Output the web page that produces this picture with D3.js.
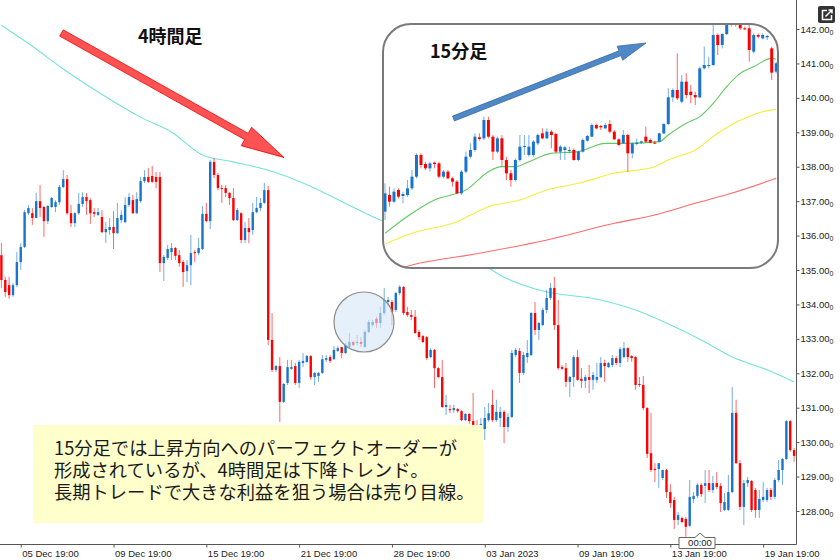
<!DOCTYPE html>
<html><head><meta charset="utf-8">
<script src="https://cdn.jsdelivr.net/npm/d3@7"></script>
<style>
html,body{margin:0;padding:0;background:#fff;}
#wrap{position:relative;width:840px;height:560px;}
svg{display:block;}
#note{position:absolute;left:54px;top:436px;font-family:'Noto Sans CJK JP','Noto Sans CJK SC',sans-serif;font-size:18.3px;color:#1a1a1a;white-space:nowrap;}
#note div{height:22px;line-height:22px;overflow:visible;}
</style>
</head><body>
<div id="wrap"><svg id="chart" width="840" height="560"></svg><div id="note"></div></div>
<script>
// ---- Main 4H chart (USD/JPY) ----
const opens=[
135.43,134.71,134.56,134.27,134.56,135.23,135.67,136.65,136.65,136.51,
137.00,136.83,136.42,136.83,136.83,136.97,137.41,137.64,136.65,136.36,
136.65,136.92,137.12,137.03,136.68,136.60,136.54,136.10,136.16,136.25,
136.07,136.45,136.39,136.89,137.03,136.65,137.00,137.58,137.70,137.73,
137.70,137.70,135.20,135.35,135.52,135.64,135.43,135.23,134.97,135.14,
135.52,135.49,135.61,136.63,136.42,138.14,137.76,137.38,137.38,137.24,
137.09,136.45,136.65,135.87,136.22,136.16,136.68,136.80,136.95,137.32,
132.97,132.10,132.21,131.17,131.72,132.13,132.21,131.72,132.30,132.33,
132.50,131.89,131.92,132.01,132.39,132.47,132.41,132.65,132.76,132.59,
132.76,132.91,132.88,132.91,132.76,133.20,133.40,133.58,133.46,133.75,
134.07,134.07,133.84,134.33,134.51,133.78,133.69,133.64,133.20,133.08,
133.05,132.47,132.68,132.15,131.89,131.02,130.96,130.93,130.96,130.90,
130.64,130.82,130.61,130.50,130.30,130.38,130.64,131.08,130.64,130.70,
130.88,130.44,130.73,132.53,132.65,132.01,132.47,132.53,133.75,133.26,
133.40,133.84,134.19,134.48,133.40,132.18,132.15,131.75,131.89,132.47,
131.84,131.78,131.89,131.81,131.81,131.89,132.30,132.18,132.24,132.44,
132.30,132.47,132.73,132.50,132.47,131.69,131.66,130.99,129.68,129.22,
129.22,128.96,129.19,128.55,128.32,127.74,127.80,127.77,127.57,128.35,
128.44,128.76,128.73,128.81,128.61,128.81,128.73,128.03,128.03,128.55,
130.85,129.39,128.12,128.81,128.87,128.61,128.03,128.32,128.32,128.61,
128.41,128.90,129.19,129.51,130.61,129.77];
const highs=[
135.78,134.80,134.80,134.62,135.52,135.78,136.74,136.89,136.80,137.24,
137.47,136.86,136.89,137.12,137.03,137.47,137.90,137.76,136.89,136.68,
137.24,137.26,137.24,137.09,136.80,136.80,136.74,136.39,136.51,136.71,
136.95,136.74,137.12,137.24,137.18,137.26,137.70,137.90,137.96,138.02,
137.85,137.85,135.43,135.73,135.78,135.67,135.58,135.29,135.29,136.02,
135.58,135.93,136.86,136.95,138.19,138.25,137.82,137.47,137.47,137.26,
137.38,136.80,136.68,136.39,136.51,136.95,137.12,137.09,137.53,137.44,
133.75,132.24,132.47,131.72,132.39,132.39,132.30,132.39,132.59,132.53,
132.53,132.04,132.04,132.53,132.53,132.53,132.79,132.79,132.76,132.88,
133.17,132.94,133.11,133.05,133.26,133.55,133.55,133.64,133.93,134.48,
134.22,134.13,134.36,134.56,134.54,133.93,133.84,133.84,133.26,133.11,
133.08,132.73,132.70,132.18,132.39,131.37,131.08,131.08,130.99,130.93,
130.84,130.84,131.43,130.64,130.70,131.02,131.14,131.52,131.23,131.02,
130.93,130.84,132.68,132.73,132.73,132.62,132.97,133.78,134.07,133.49,
133.90,134.42,134.62,134.80,134.13,132.24,132.30,131.92,132.53,132.68,
132.15,131.95,132.24,132.04,132.30,132.47,132.39,132.33,132.53,132.50,
132.76,132.91,132.76,132.53,132.50,131.89,131.92,131.02,130.85,129.39,
129.39,129.19,129.22,128.78,128.41,127.97,127.83,127.83,128.90,128.55,
128.81,128.81,129.19,129.19,129.02,129.13,128.81,128.52,129.05,131.60,
131.23,129.48,128.90,128.99,128.90,128.67,128.61,128.84,128.67,128.67,
128.96,129.48,129.54,130.64,130.64,129.83];
const lows=[
134.48,134.22,134.16,134.22,134.51,135.00,135.64,136.60,136.31,136.51,
136.54,135.96,136.34,136.80,136.68,136.89,137.38,136.60,136.25,136.25,
136.60,136.83,136.60,136.34,136.54,136.57,136.07,135.78,136.02,135.61,
136.05,136.36,136.36,136.83,136.63,136.63,136.95,137.53,137.53,137.53,
137.38,134.94,134.68,135.29,135.29,135.29,135.09,134.51,134.65,134.56,
135.23,135.43,135.58,136.39,136.19,137.67,137.32,136.95,137.12,136.89,
136.42,136.42,135.78,135.78,135.78,136.02,136.65,136.71,136.92,132.82,
132.04,132.04,130.59,131.14,131.66,132.10,131.66,131.57,132.18,132.30,
131.81,131.66,131.75,131.98,132.33,132.30,132.39,132.62,132.44,132.56,
132.73,132.79,132.82,132.76,132.76,133.17,133.34,133.32,133.32,133.69,
133.93,133.40,133.78,134.27,133.69,133.64,133.55,133.14,132.97,132.88,
132.39,132.44,131.57,131.86,130.99,130.79,130.85,130.85,130.85,130.61,
130.61,130.53,130.44,130.12,130.24,130.06,130.59,130.59,130.59,130.44,
129.97,130.30,130.70,132.47,131.72,131.95,132.30,132.50,133.11,132.97,
133.37,133.75,134.13,133.26,132.10,132.10,131.60,131.31,131.60,131.78,
131.57,131.57,131.43,131.52,131.72,131.86,131.75,132.15,132.18,132.24,
132.18,132.44,132.33,132.33,131.52,131.60,130.93,129.54,129.13,128.84,
128.67,128.90,128.38,128.09,127.48,127.59,127.65,127.25,127.54,128.23,
128.38,128.41,128.23,128.55,128.52,128.64,127.97,128.00,128.00,128.52,
129.37,128.03,127.59,128.70,127.97,127.80,127.80,128.26,128.26,128.32,
128.35,128.84,128.76,129.48,129.72,129.43];
const closes=[
134.71,134.36,134.27,134.56,135.23,135.67,136.68,136.80,136.51,137.00,
136.80,136.42,136.86,137.09,136.97,137.41,137.64,136.65,136.36,136.65,
136.92,137.12,137.00,136.65,136.63,136.68,136.10,136.19,136.25,136.07,
136.51,136.60,136.89,137.12,136.65,137.06,137.58,137.70,137.56,137.56,
137.56,135.20,135.38,135.61,135.64,135.41,135.20,134.94,135.14,135.49,
135.49,135.64,136.63,136.42,138.14,137.76,137.38,137.35,137.24,137.09,
136.45,136.74,135.87,136.22,136.10,136.68,136.80,136.95,137.32,132.97,
132.10,132.21,131.17,131.69,132.18,132.18,131.72,132.33,132.36,132.50,
131.89,132.01,132.01,132.41,132.44,132.36,132.68,132.73,132.59,132.82,
132.91,132.82,132.91,132.85,133.20,133.49,133.49,133.46,133.75,134.13,
134.13,133.78,134.33,134.51,133.75,133.69,133.64,133.17,133.05,132.91,
132.44,132.68,132.15,131.89,131.02,131.08,130.93,130.99,130.90,130.64,
130.82,130.61,130.50,130.30,130.53,130.70,130.84,130.64,130.88,130.88,
130.44,130.73,132.59,132.68,132.01,132.53,132.59,133.75,133.26,133.46,
133.84,134.19,134.48,133.40,132.15,132.13,131.75,131.89,132.47,131.81,
131.78,131.89,131.81,131.95,131.89,132.30,132.21,132.30,132.44,132.30,
132.70,132.73,132.47,132.44,131.66,131.66,130.99,129.66,129.19,129.19,
129.39,129.19,128.55,128.23,127.74,127.88,127.68,127.54,128.41,128.44,
128.76,128.49,128.81,128.61,128.81,128.70,128.23,128.26,128.55,130.85,
129.39,128.12,128.81,128.90,128.03,128.03,128.35,128.41,128.61,128.41,
128.90,129.19,129.51,130.61,129.77,129.60];
// moving average (read at selected bars)
const maIdx=[0,8,15,25,36,44,52,60,69,98,126,129,139,155,164,172,181,189,198,205];
const maVal=[142.11,141.50,140.92,140.17,139.44,139.01,138.34,138.14,137.90,136.45,135.06,134.85,134.42,134.13,133.84,133.46,132.97,132.47,132.10,131.75];
const yTicks=[128,129,130,131,132,133,134,135,136,137,138,139,140,141,142];
const xTickIdx=[5,29,53,77,101,125,149,173,197];
const xTickLabels=["05 Dec 19:00","09 Dec 19:00","15 Dec 19:00","21 Dec 19:00","28 Dec 19:00","03 Jan 2023","09 Jan 19:00","13 Jan 19:00","19 Jan 19:00"];

// ---- Inset 15-minute chart ----
const insetOpen=[
133.35,133.45,133.41,133.48,133.444,133.45,133.49,133.56,133.69,133.636,
133.61,133.644,133.64,133.56,133.59,133.55,133.53,133.46,133.59,133.68,
133.72,133.796,133.79,133.90,133.80,133.71,133.79,133.66,133.58,133.54,
133.66,133.74,133.69,133.69,133.76,133.82,133.79,133.83,133.816,133.71,
133.72,133.714,133.72,133.66,133.71,133.776,133.80,133.87,133.864,133.85,
133.876,133.83,133.784,133.76,133.81,133.70,133.756,133.764,133.80,133.78,
133.764,133.77,133.82,133.876,134.036,134.08,134.01,134.13,134.07,134.05,
134.036,134.21,134.224,134.23,134.41,134.35,134.416,134.47,134.50,134.476,
134.45,134.45,134.31,134.41,134.39,134.396,134.33,134.19];
const insetHigh=[
133.52,133.50,133.49,133.49,133.47,133.54,133.60,133.70,133.70,133.65,
133.65,133.65,133.65,133.60,133.60,133.56,133.54,133.60,133.71,133.76,
133.82,133.82,133.92,133.92,133.81,133.80,133.81,133.68,133.60,133.67,
133.81,133.81,133.81,133.78,133.82,133.85,133.85,133.84,133.824,133.75,
133.744,133.74,133.73,133.716,133.79,133.81,133.88,133.88,133.87,133.88,
133.90,133.84,133.79,133.84,133.816,133.764,133.79,133.776,133.86,133.79,
133.776,133.824,133.88,134.09,134.09,134.30,134.17,134.18,134.11,134.07,
134.22,134.34,134.28,134.47,134.42,134.42,134.48,134.52,134.52,134.49,
134.46,134.47,134.42,134.42,134.42,134.41,134.34,134.25];
const insetLow=[
133.30,133.38,133.40,133.43,133.40,133.44,133.48,133.55,133.61,133.60,
133.59,133.61,133.55,133.55,133.544,133.50,133.456,133.45,133.58,133.67,
133.71,133.776,133.78,133.79,133.66,133.70,133.62,133.54,133.50,133.53,
133.65,133.69,133.68,133.68,133.75,133.784,133.784,133.73,133.70,133.66,
133.66,133.70,133.656,133.652,133.704,133.77,133.796,133.844,133.84,133.844,
133.82,133.78,133.744,133.756,133.59,133.67,133.748,133.756,133.764,133.76,
133.756,133.764,133.816,133.87,134.01,134.02,134.00,134.03,134.00,133.99,
134.03,134.204,134.21,134.224,134.29,134.33,134.41,134.46,134.46,134.44,
134.44,134.25,134.30,134.39,134.384,134.38,134.14,134.18];
const insetClose=[
133.46,133.41,133.47,133.44,133.456,133.49,133.56,133.69,133.63,133.61,
133.64,133.636,133.56,133.59,133.55,133.53,133.46,133.59,133.68,133.72,
133.80,133.786,133.90,133.80,133.71,133.79,133.66,133.58,133.54,133.66,
133.74,133.744,133.74,133.77,133.81,133.79,133.83,133.81,133.71,133.74,
133.736,133.72,133.66,133.71,133.78,133.804,133.87,133.85,133.856,133.87,
133.83,133.784,133.75,133.81,133.70,133.76,133.764,133.772,133.77,133.764,
133.76,133.82,133.876,134.036,134.08,134.03,134.13,134.05,134.05,134.036,
134.21,134.23,134.23,134.41,134.35,134.416,134.47,134.51,134.476,134.45,
134.444,134.32,134.41,134.40,134.41,134.404,134.184,134.24];
const insetMaFastIdx=[0,6,11,16,18,23,26,29,32,37,43,49,54,61,63,67,70,73,76,79,82,86,87];
const insetMaFast=[133.22,133.34,133.42,133.46,133.48,133.59,133.62,133.62,133.65,133.70,133.71,133.76,133.76,133.77,133.81,133.88,133.92,134.00,134.10,134.18,134.22,134.27,134.264];
const insetMaMidIdx=[0,6,16,23,30,36,43,51,60,63,69,74,80,84,87];
const insetMaMid=[133.156,133.22,133.29,133.38,133.42,133.48,133.52,133.58,133.62,133.66,133.72,133.82,133.91,133.95,133.964];
const insetMaSlowIdx=[0,6,21,36,51,60,69,77,87];
const insetMaSlow=[132.98,133.03,133.10,133.18,133.28,133.33,133.40,133.46,133.55];

const titleMain="4時間足";
const titleInset="15分足";
const noteLines=["15分足では上昇方向へのパーフェクトオーダーが","形成されているが、4時間足は下降トレンド。","長期トレードで大きな利益を狙う場合は売り目線。"];

// ---------------- drawing ----------------
const UP="#1874cd", DN="#ff0000";
const CJK="'Noto Sans CJK JP','Noto Sans CJK SC',sans-serif";
const AXF="'Liberation Sans',Arial,sans-serif";
const svg=d3.select("#chart");
const defs=svg.append("defs");

const x=d3.scaleLinear().domain([0,opens.length-1]).range([1.4,794.1]);
const y=d3.scaleLinear().domain([128,142]).range([511,29]);

defs.append("clipPath").attr("id","plotClip").append("rect").attr("x",0).attr("y",0).attr("width",796).attr("height",544);
const plot=svg.append("g").attr("clip-path","url(#plotClip)");

// MA line
plot.append("path")
  .datum(maIdx.map((d,k)=>[d,maVal[k]]))
  .attr("d",d3.line().x(d=>x(d[0])).y(d=>y(d[1])).curve(d3.curveMonotoneX))
  .attr("fill","none").attr("stroke","#74e3d9").attr("stroke-width",1.1);

function drawCandles(g,o,h,l,c,xs,ys,bw){
  const data=o.map((v,i)=>({i,o:v,h:h[i],l:l[i],c:c[i]}));
  const cg=g.append("g").selectAll("g").data(data).join("g");
  cg.append("line")
    .attr("x1",d=>xs(d.i)).attr("x2",d=>xs(d.i))
    .attr("y1",d=>ys(d.h)).attr("y2",d=>ys(d.l))
    .attr("stroke",d=>d.c>=d.o?UP:DN).attr("stroke-opacity",0.6).attr("stroke-width",1);
  cg.append("rect")
    .attr("x",d=>xs(d.i)-bw/2).attr("width",bw)
    .attr("y",d=>ys(Math.max(d.o,d.c)))
    .attr("height",d=>Math.max(1,Math.abs(ys(d.o)-ys(d.c))))
    .attr("fill",d=>d.c>=d.o?UP:DN);
}
drawCandles(plot,opens,highs,lows,closes,x,y,2.4);

// highlight circle
plot.append("circle").attr("cx",364).attr("cy",322).attr("r",30)
  .attr("fill","rgba(214,230,247,0.6)").attr("stroke","#8c8c8c").attr("stroke-width",1.2);

// arrow helper
function arrowPath(x0,y0,x1,y1,sw,hl,hw){
  const dx=x1-x0,dy=y1-y0,L=Math.hypot(dx,dy),ux=dx/L,uy=dy/L,nx=-uy,ny=ux;
  const bx=x1-ux*hl,by=y1-uy*hl;
  const pts=[[x0+nx*sw,y0+ny*sw],[bx+nx*sw,by+ny*sw],[bx+nx*hw,by+ny*hw],[x1,y1],
             [bx-nx*hw,by-ny*hw],[bx-nx*sw,by-ny*sw],[x0-nx*sw,y0-ny*sw]];
  return "M"+pts.map(p=>p[0].toFixed(1)+","+p[1].toFixed(1)).join("L")+"Z";
}

// ---- inset ----
const ix=d3.scaleLinear().domain([0,insetOpen.length-1]).range([385,776.2]);
const iy=d3.scaleLinear().domain([133.0,134.5]).range([270,20]);
const IR={x:383,y:24,w:395,h:244,r:28};
defs.append("clipPath").attr("id","insetClip").append("rect")
  .attr("x",IR.x).attr("y",IR.y).attr("width",IR.w).attr("height",IR.h).attr("rx",IR.r);
svg.append("rect").attr("x",IR.x).attr("y",IR.y).attr("width",IR.w).attr("height",IR.h).attr("rx",IR.r).attr("fill","#fff");
const inset=svg.append("g").attr("clip-path","url(#insetClip)");
const iline=d3.line().x(d=>ix(d[0])).y(d=>iy(d[1])).curve(d3.curveMonotoneX);
[[insetMaSlowIdx,insetMaSlow,"#ff6a6a"],[insetMaMidIdx,insetMaMid,"#f4ee3a"],[insetMaFastIdx,insetMaFast,"#62c962"]]
  .forEach(([idx,val,col])=>{
    inset.append("path").datum(idx.map((d,k)=>[d,val[k]])).attr("d",iline)
      .attr("fill","none").attr("stroke",col).attr("stroke-width",1.1);
  });
drawCandles(inset,insetOpen,insetHigh,insetLow,insetClose,ix,iy,3);
svg.append("rect").attr("x",IR.x).attr("y",IR.y).attr("width",IR.w).attr("height",IR.h).attr("rx",IR.r)
  .attr("fill","none").attr("stroke","#7a7a7a").attr("stroke-width",2);
svg.append("text").attr("x",430).attr("y",58).attr("font-family",CJK).attr("font-weight",700)
  .attr("font-size",18).attr("fill","#111").text(titleInset);
svg.append("path").attr("d",arrowPath(453.5,118.5,646,43,2.6,28,7.5))
  .attr("fill","#4f88c6").attr("stroke","#3a6aa3").attr("stroke-width",0.8);

// ---- red arrow + title ----
svg.append("path").attr("d",arrowPath(61.5,33,284,157.5,3.6,43,10.5))
  .attr("fill","#ff5252").attr("stroke","#e60000").attr("stroke-width",0.8);
svg.append("text").attr("x",138).attr("y",43).attr("font-family",CJK).attr("font-weight",700)
  .attr("font-size",18).attr("fill","#111").text(titleMain);

// ---- annotation box ----
svg.append("rect").attr("x",33).attr("y",425).attr("width",450).attr("height",98).attr("fill","#ffffcc");
d3.select("#note").selectAll("div").data(noteLines).join("div").text(d=>d);

// ---- axes ----
svg.append("line").attr("x1",796.5).attr("x2",796.5).attr("y1",0).attr("y2",544.5).attr("stroke","#555");
svg.append("line").attr("x1",0).attr("x2",796.5).attr("y1",544.5).attr("y2",544.5).attr("stroke","#555");

const gy=svg.append("g").attr("transform","translate(796.5,0)")
  .call(d3.axisRight(y).tickValues(yTicks).tickSize(3).tickFormat(d=>d.toFixed(2)));
gy.select(".domain").remove();
gy.selectAll(".tick line").attr("stroke","#555");
gy.selectAll(".tick text").attr("x",4).attr("font-family",AXF).attr("font-size",9.5).attr("fill","#222")
  .append("tspan").attr("font-size",7).attr("dy",2).text("0");

const gx=svg.append("g").attr("transform","translate(0,544.5)")
  .call(d3.axisBottom(x).tickValues(xTickIdx).tickSize(3).tickFormat((d,i)=>xTickLabels[i]));
gx.select(".domain").remove();
gx.selectAll(".tick line").attr("stroke","#555");
gx.selectAll(".tick text").attr("text-anchor","start").attr("x",1)
  .attr("font-family",AXF).attr("font-size",9.5).attr("fill","#222");

// time marker
svg.append("path").attr("d","M679,537.5L695,537.5L700,533L705,537.5L715,537.5L715,548.5L679,548.5Z")
  .attr("fill","#fff").attr("stroke","#666").attr("stroke-width",1);
svg.append("text").attr("x",700).attr("y",546).attr("text-anchor","middle")
  .attr("font-family",AXF).attr("font-size",9.5).attr("fill","#222").text("00:00");

// corner icon
svg.append("rect").attr("x",818).attr("y",6).attr("width",17).attr("height",17).attr("rx",2).attr("fill","#333");
svg.append("path").attr("d","M827,10.5H822.5V19.5H831.5V15 M825.5,16.5L832,10 M828.5,10H832V13.5")
  .attr("fill","none").attr("stroke","#fff").attr("stroke-width",1.5);
</script>
</body></html>
